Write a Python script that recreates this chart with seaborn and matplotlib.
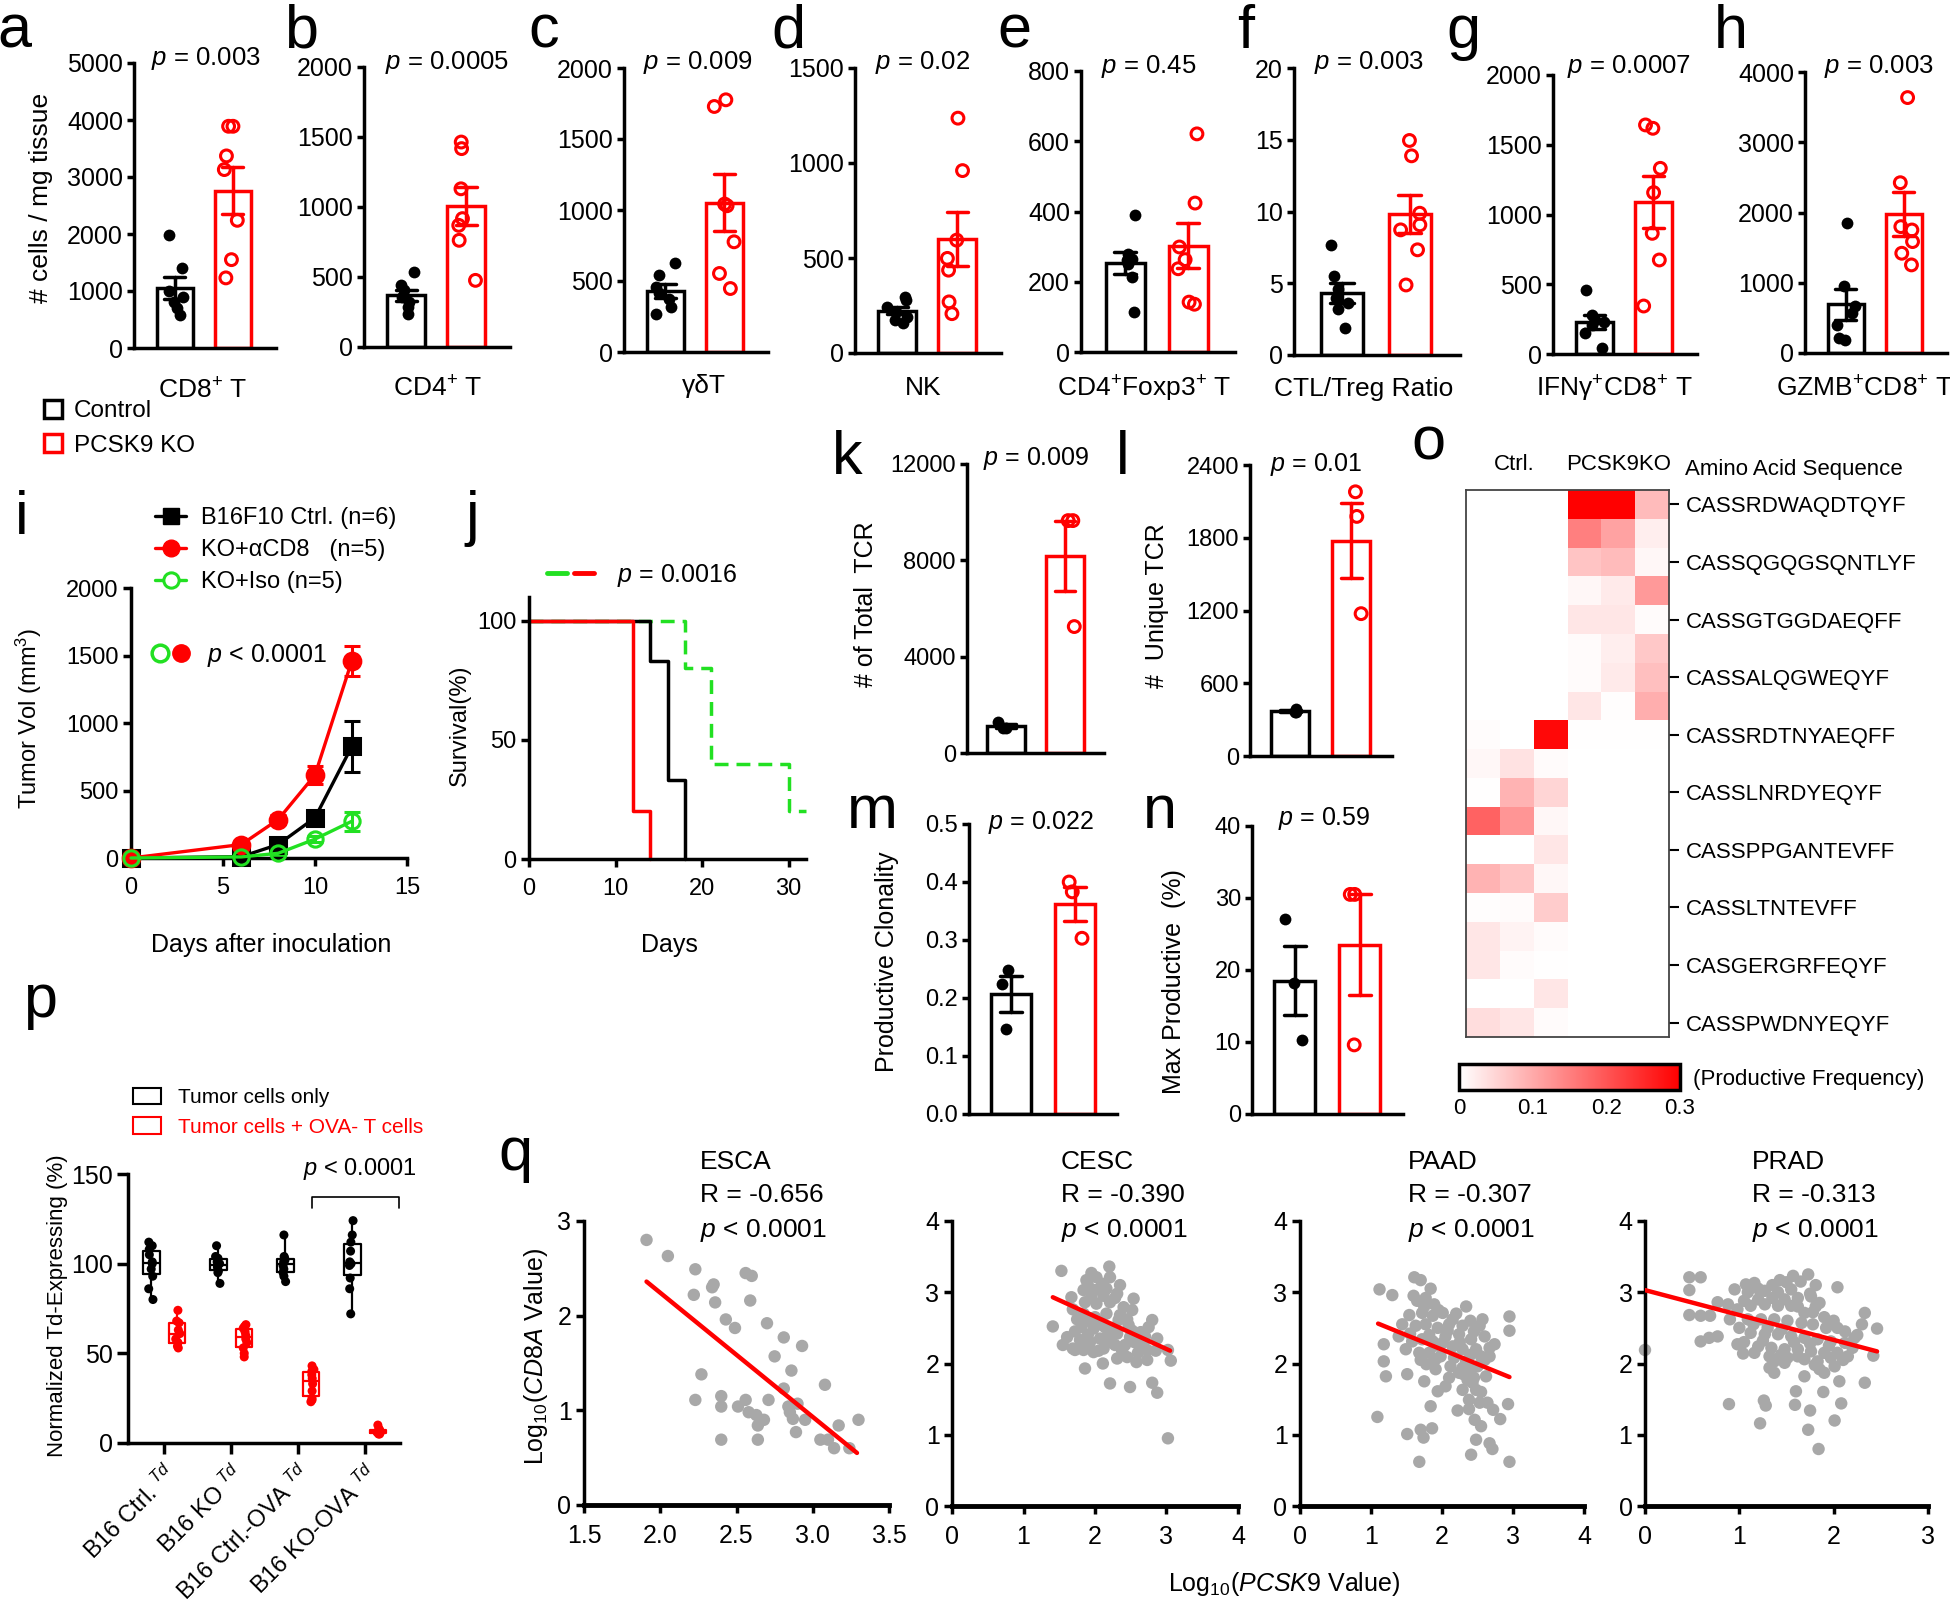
import numpy as np
import pandas as pd
import matplotlib
matplotlib.use("Agg")
import matplotlib.pyplot as plt
import seaborn as sns
from matplotlib import font_manager as fm
from matplotlib.patches import Patch
from matplotlib.lines import Line2D
from matplotlib.legend_handler import HandlerTuple
from matplotlib.colors import LinearSegmentedColormap

# ======================= DATA =======================
groups = ["Control", "PCSK9 KO"]

# panels a-h : cells / mg tissue (individual mice)
cd8_ctrl = [1990, 1400, 1000, 900, 800, 700, 580]
cd8_ko = [3890, 3890, 3370, 3130, 2240, 1550, 1230]
cd4_ctrl = [536, 440, 405, 357, 321, 286, 238]
cd4_ko = [1464, 1417, 1130, 917, 869, 762, 476]
gdt_ctrl = [624, 541, 459, 412, 376, 318, 271]
gdt_ko = [1776, 1729, 1042, 1030, 776, 553, 447]
nk_ctrl = [295, 278, 243, 216, 190, 175, 160]
nk_ko = [1236, 960, 594, 498, 436, 269, 207]
treg_ctrl = [389, 280, 266, 261, 251, 213, 114]
treg_ko = [621, 424, 299, 263, 237, 142, 136]
ratio_ctrl = [7.67, 5.5, 4.6, 4.0, 3.6, 3.2, 1.86]
ratio_ko = [14.95, 13.88, 9.88, 9.07, 8.72, 7.33, 4.88]
ifng_ctrl = [459, 280, 244, 232, 208, 148, 41]
ifng_ko = [1642, 1618, 1331, 1157, 865, 674, 344]
gzmb_ctrl = [1856, 947, 672, 568, 402, 213, 189]
gzmb_ko = [3636, 2424, 1799, 1751, 1586, 1420, 1254]
top_xlabels = ["CD8$^{+}$ T", "CD4$^{+}$ T", "\u03b3\u03b4T", "NK", "CD4$^{+}$Foxp3$^{+}$ T",
               "CTL/Treg Ratio", "IFN\u03b3$^{+}$CD8$^{+}$ T", "GZMB$^{+}$CD8$^{+}$ T"]
top_pvals = ["0.003", "0.0005", "0.009", "0.02", "0.45", "0.003", "0.0007", "0.003"]
top_ymax = [5000, 2000, 2000, 1500, 800, 20, 2000, 4000]
top_step = [1000, 500, 500, 500, 200, 5, 500, 1000]

# panel i : tumour growth (mean, SEM)
days = [0, 6, 8, 10, 12]
ctrl_vol = [0, 10, 100, 298, 826]
ctrl_sem = [0, 6, 20, 30, 190]
cd8_vol = [0, 100, 285, 615, 1459]
cd8_sem = [0, 15, 30, 70, 110]
iso_vol = [0, 8, 35, 140, 272]
iso_sem = [0, 5, 10, 25, 70]
growth_labels = ["B16F10 Ctrl. (n=6)", "KO+\u03b1CD8   (n=5)", "KO+Iso (n=5)"]

# panel j : survival
surv_ctrl_t = [0, 14, 16, 18]
surv_ctrl_s = [100, 83.3, 33.3, 0]
surv_cd8_t = [0, 12, 14]
surv_cd8_s = [100, 20, 0]
surv_iso_t = [0, 18, 21, 30, 32]
surv_iso_s = [100, 80, 40, 20, 20]

# panels k-n : TCR sequencing
tcr_total_ctrl = [1020, 1300, 1020]
tcr_total_ko = [9650, 9650, 5250]
tcr_unique_ctrl = [360, 385, 360]
tcr_unique_ko = [2179, 1976, 1174]
clonality_ctrl = [0.248, 0.225, 0.146]
clonality_ko = [0.400, 0.383, 0.303]
maxprod_ctrl = [27.1, 18.2, 10.3]
maxprod_ko = [30.5, 30.5, 9.6]

# panel o : productive frequency heatmap (rows: clonotypes, cols: 3 Ctrl + 3 KO)
tcr_freq = [
    [0.000, 0.000, 0.000, 0.300, 0.300, 0.080],
    [0.000, 0.000, 0.000, 0.150, 0.110, 0.020],
    [0.000, 0.000, 0.000, 0.070, 0.080, 0.010],
    [0.000, 0.000, 0.000, 0.010, 0.025, 0.120],
    [0.000, 0.000, 0.000, 0.030, 0.030, 0.005],
    [0.000, 0.000, 0.000, 0.005, 0.020, 0.065],
    [0.000, 0.000, 0.000, 0.005, 0.025, 0.075],
    [0.000, 0.000, 0.000, 0.030, 0.003, 0.095],
    [0.004, 0.000, 0.290, 0.002, 0.002, 0.002],
    [0.010, 0.035, 0.005, 0.000, 0.000, 0.000],
    [0.002, 0.090, 0.050, 0.000, 0.000, 0.000],
    [0.185, 0.125, 0.010, 0.000, 0.000, 0.000],
    [0.000, 0.000, 0.030, 0.000, 0.000, 0.000],
    [0.090, 0.070, 0.010, 0.000, 0.000, 0.000],
    [0.003, 0.005, 0.060, 0.000, 0.000, 0.000],
    [0.030, 0.015, 0.005, 0.000, 0.000, 0.000],
    [0.030, 0.005, 0.002, 0.000, 0.000, 0.000],
    [0.000, 0.000, 0.030, 0.000, 0.000, 0.000],
    [0.040, 0.030, 0.005, 0.000, 0.000, 0.000],
]
tcr_labels = ["CASSRDWAQDTQYF", "CASSQGQGSQNTLYF", "CASSGTGGDAEQFF", "CASSALQGWEQYF",
              "CASSRDTNYAEQFF", "CASSLNRDYEQYF", "CASSPPGANTEVFF", "CASSLTNTEVFF",
              "CASGERGRFEQYF", "CASSPWDNYEQYF"]
cbar_ticks = [0, 0.1, 0.2, 0.3]
cbar_ticklabels = ["0", "0.1", "0.2", "0.3"]

# panel p : normalized Td-expressing (%)
td_groups = ["B16 Ctrl. $^{Td}$", "B16 KO $^{Td}$", "B16 Ctrl.-OVA $^{Td}$", "B16 KO-OVA $^{Td}$"]
td_conds = ["Tumor cells only", "Tumor cells + OVA- T cells"]
td_ctrl_only = [112, 110, 108, 105, 101, 100, 97, 93, 86, 80]
td_ctrl_t = [74, 68, 67, 63, 61, 58, 56, 54, 53]
td_ko_only = [110, 104, 103, 101, 100, 99, 98, 96, 95, 89]
td_ko_t = [66, 65, 64, 62, 60, 58, 56, 53, 50, 48]
td_ctrlova_only = [116, 104, 103, 102, 101, 99, 97, 95, 93, 90]
td_ctrlova_t = [43, 41, 40, 38, 36, 33, 29, 25, 24, 23]
td_koova_only = [124, 116, 112, 107, 101, 100, 99, 92, 86, 72]
td_koova_t = [10, 8, 7, 7, 6, 6, 5, 5]

# panel q : TCGA correlations log10(PCSK9) vs log10(CD8A)
esca_x = [1.91, 2.05, 2.23, 2.56, 2.60, 2.34, 2.35, 2.22, 2.36, 2.59, 2.43, 2.49, 2.70, 2.81, 2.93,
          2.75, 2.86, 2.27, 2.81, 3.08, 2.23, 2.40, 2.40, 2.51, 2.56, 2.58, 2.63, 2.68, 2.64, 2.71,
          2.84, 2.90, 2.87, 2.95, 2.89, 2.40, 2.64, 3.17, 3.30, 3.05, 3.10, 3.14, 3.24, 2.85]
esca_y = [2.80, 2.63, 2.49, 2.45, 2.42, 2.30, 2.33, 2.22, 2.14, 2.16, 1.96, 1.87, 1.92, 1.77, 1.68,
          1.57, 1.42, 1.38, 1.23, 1.27, 1.11, 1.15, 1.04, 1.04, 1.11, 0.98, 0.95, 0.90, 0.84, 1.11,
          1.04, 1.07, 0.91, 0.90, 0.77, 0.69, 0.69, 0.84, 0.90, 0.69, 0.69, 0.60, 0.60, 0.98]
cesc_x = [1.53, 2.20, 1.95, 2.35, 1.67, 2.54, 1.41, 1.69, 2.80, 3.06, 1.86, 2.11, 2.21, 2.49, 2.80,
          2.87, 3.02, 1.55, 1.61, 1.69, 2.31, 2.45, 2.58, 2.73, 2.85, 3.02, 2.87, 2.75, 2.64, 2.28,
          1.88, 2.02, 2.21, 1.84, 2.00, 2.16, 2.31, 1.86, 2.02, 2.21, 2.40, 2.52, 1.84, 2.00, 2.16,
          2.33, 2.47, 1.81, 1.98, 2.14, 2.31, 2.49, 2.64, 1.79, 1.93, 2.07, 2.21, 2.42, 1.84, 1.98,
          2.12, 1.72, 2.73, 2.68,
          1.90, 2.10, 2.28, 1.95, 2.12, 2.35, 2.45, 2.25, 2.05, 1.90, 1.72, 1.75, 2.55, 2.60, 2.38,
          2.05, 1.90, 2.18, 2.70, 2.52]
cesc_y = [3.30, 3.36, 3.27, 3.10, 2.93, 2.91, 2.52, 2.76, 2.61, 2.04, 1.93, 2.00, 1.72, 1.67, 1.73,
          1.59, 0.95, 2.26, 2.37, 2.21, 2.07, 2.09, 2.02, 2.05, 2.18, 2.19, 2.35, 2.51, 2.23, 2.26,
          3.17, 3.21, 3.21, 3.03, 3.03, 3.05, 2.98, 2.86, 2.84, 2.86, 2.79, 2.75, 2.70, 2.65, 2.70,
          2.61, 2.54, 2.51, 2.49, 2.51, 2.42, 2.37, 2.44, 2.33, 2.30, 2.35, 2.30, 2.26, 2.19, 2.16,
          2.21, 2.19, 2.19, 2.30,
          3.10, 3.12, 2.92, 2.93, 2.95, 2.68, 2.62, 2.50, 2.55, 2.60, 2.45, 2.62, 2.30, 2.15, 2.18,
          2.18, 2.40, 2.40, 2.38, 2.46]
paad_x = [1.12, 1.30, 1.61, 1.70, 1.84, 2.34, 2.95, 2.95, 1.18, 1.18, 1.21, 1.51, 1.75, 1.94, 1.84,
          2.22, 2.38, 1.09, 1.51, 1.70, 1.86, 1.74, 1.68, 2.48, 2.41, 2.67, 2.71, 2.95, 2.93, 2.72,
          2.82, 2.55, 2.46, 2.55, 2.43, 2.64, 2.74, 2.67, 2.57, 2.53, 2.60, 2.62, 2.41, 2.24, 2.10,
          1.91, 1.78, 1.39, 1.44, 1.54, 1.49,
          1.65, 1.77, 1.89, 1.72, 1.87, 2.01, 2.15, 2.29, 1.63, 1.77, 1.94, 2.08, 2.24, 2.41, 1.58,
          1.72, 1.87, 2.01, 2.15, 2.29, 2.48, 1.68, 1.82, 1.98, 2.17, 2.34, 2.50, 2.67, 2.55, 1.91,
          2.12, 2.29, 2.36, 2.48, 2.29, 2.53, 2.38,
          1.60, 1.75, 1.95, 2.10, 2.20, 2.40, 2.45, 1.55, 1.82, 2.05, 2.25, 1.90, 2.40, 2.60, 2.30,
          2.45, 2.05, 1.70]
paad_y = [3.04, 2.96, 3.21, 3.17, 3.05, 2.80, 2.66, 2.46, 2.27, 2.03, 1.82, 1.85, 1.75, 1.61, 1.40,
          1.34, 1.36, 1.25, 1.01, 1.07, 1.09, 0.96, 0.62, 0.93, 0.72, 0.88, 0.80, 0.62, 1.43, 1.35,
          1.22, 1.12, 1.21, 1.60, 1.73, 1.45, 2.27, 2.10, 2.62, 2.53, 2.38, 1.82, 1.92, 1.87, 1.80,
          1.92, 1.99, 2.38, 2.55, 2.68, 2.20,
          2.88, 2.92, 2.83, 2.71, 2.67, 2.71, 2.62, 2.53, 2.53, 2.55, 2.50, 2.46, 2.41, 2.34, 2.31,
          2.34, 2.31, 2.29, 2.24, 2.20, 2.20, 2.15, 2.15, 2.10, 2.08, 2.03, 1.96, 2.22, 2.10, 2.06,
          1.96, 1.94, 1.77, 1.63, 1.63, 1.45, 1.49,
          2.95, 2.80, 2.75, 2.55, 2.70, 2.60, 2.45, 2.42, 2.40, 2.38, 2.30, 2.25, 2.12, 2.05, 1.85,
          1.80, 1.68, 2.05]
prad_x = [0.00, 0.47, 0.59, 0.47, 0.47, 0.59, 0.69, 0.59, 0.68, 0.77, 0.77, 0.88, 0.95, 1.07, 1.16,
          1.43, 1.57, 1.73, 1.81, 2.04, 1.76, 1.81, 2.33, 2.46, 2.42, 2.33, 2.06, 2.22, 2.15, 1.69,
          1.60, 1.59, 1.75, 1.73, 1.84, 1.89, 2.08, 2.01, 0.89, 1.26, 1.28, 1.22, 1.37, 0.98, 1.04,
          1.16, 1.32, 1.48, 1.85, 2.01,
          1.09, 1.27, 1.41, 1.55, 1.62, 0.98, 1.12, 1.27, 1.41, 1.55, 1.69, 1.09, 1.23, 1.37, 1.51,
          1.66, 1.78, 1.92, 2.04, 1.12, 1.27, 1.41, 1.55, 1.69, 1.83, 1.97, 2.12, 1.20, 1.34, 1.48,
          1.62, 1.76, 1.90, 2.04, 1.37, 1.51, 1.69, 1.83, 1.97, 1.32, 1.90,
          1.20, 1.35, 1.50, 1.65, 1.75, 1.05, 1.20, 1.35, 1.48, 1.62, 1.78, 1.90, 2.00, 2.12, 2.25,
          2.20, 2.10, 1.95, 1.75, 1.58, 1.45, 1.30, 1.15, 1.00, 0.90, 1.05, 1.25, 1.44, 1.62, 1.80,
          2.30, 1.85]
prad_y = [2.19, 3.21, 3.21, 3.03, 2.68, 2.67, 2.67, 2.31, 2.36, 2.38, 2.86, 2.83, 3.04, 3.11, 3.13,
          3.17, 3.23, 3.25, 3.10, 3.07, 2.94, 2.80, 2.71, 2.49, 2.11, 1.73, 1.75, 2.36, 2.10, 1.82,
          1.61, 1.42, 1.34, 1.07, 0.80, 1.60, 1.44, 1.20, 1.43, 1.48, 1.41, 1.16, 1.87, 2.27, 2.14,
          2.15, 2.10, 2.01, 1.92, 1.96,
          3.00, 3.02, 3.00, 3.04, 2.92, 2.76, 2.81, 2.83, 2.81, 2.81, 2.71, 2.62, 2.62, 2.62, 2.60,
          2.57, 2.55, 2.50, 2.50, 2.43, 2.41, 2.41, 2.38, 2.36, 2.34, 2.31, 2.29, 2.24, 2.22, 2.20,
          2.20, 2.17, 2.15, 2.15, 2.03, 2.08, 2.06, 2.03, 2.08, 1.94, 1.87,
          3.05, 3.10, 3.14, 3.15, 2.98, 2.88, 2.90, 2.92, 2.90, 2.80, 2.72, 2.65, 2.60, 2.45, 2.40,
          2.22, 2.05, 2.25, 2.28, 2.30, 2.48, 2.50, 2.55, 2.50, 2.62, 2.30, 2.32, 2.12, 2.10, 1.98,
          2.55, 2.85]
esca_fit_x, esca_fit_y = [1.91, 3.29], [2.36, 0.55]
cesc_fit_x, cesc_fit_y = [1.41, 3.05], [2.93, 2.18]
paad_fit_x, paad_fit_y = [1.10, 2.95], [2.56, 1.81]
prad_fit_x, prad_fit_y = [0.00, 2.46], [3.03, 2.17]
q_titles = ["ESCA", "CESC", "PAAD", "PRAD"]
q_r = ["R = -0.656", "R = -0.390", "R = -0.307", "R = -0.313"]

# ======================= STYLE =======================
RED = "#FF0000"
GREEN = "#22E022"
GRAY = "#A8A8A8"
sns.set_style("ticks")

try:
    fm.findfont(fm.FontProperties(family="Liberation Sans Narrow"), fallback_to_default=False)
    NARROW = "Liberation Sans Narrow"
    FS = 1.22
except Exception:
    NARROW = "Liberation Sans"
    FS = 1.0
FAMILY = [NARROW, "Liberation Sans", "DejaVu Sans"]
plt.rcParams["font.family"] = FAMILY
plt.rcParams["mathtext.fontset"] = "custom"
plt.rcParams["mathtext.rm"] = NARROW
plt.rcParams["mathtext.it"] = NARROW + ":italic"
plt.rcParams["mathtext.bf"] = NARROW + ":bold"
plt.rcParams["mathtext.sf"] = NARROW
for k in ["axes.edgecolor", "xtick.color", "ytick.color", "text.color", "axes.labelcolor"]:
    plt.rcParams[k] = "black"
np.random.seed(5)

W, H = 1950, 1604
fig = plt.figure(figsize=(W / 100, H / 100), dpi=100)
fig.patch.set_facecolor("white")


def add_ax(l, t, r, b):
    return fig.add_axes([l / W, 1 - b / H, (r - l) / W, (b - t) / H])


def ftext(x, y, s, size=18, ha="center", va="center", **kw):
    return fig.text(x / W, 1 - y / H, s, fontsize=size * FS, ha=ha, va=va, **kw)


def leg(fs, first_center, x_left, hl_px, htp_px, pitch=None, hh_px=None):
    """legend keyword set (pixel-based layout converted to font units)"""
    fpt = fs * FS
    fpx = fpt * 100 / 72
    th = 1.15 * fpx
    kw = dict(fontsize=fpt, handlelength=hl_px / fpx, handletextpad=htp_px / fpx,
              frameon=False, borderpad=0, borderaxespad=0, loc="upper left",
              bbox_to_anchor=(x_left / W, 1 - (first_center - th / 2) / H))
    if hh_px:
        kw["handleheight"] = hh_px / fpx
    if pitch:
        kw["labelspacing"] = max(pitch - th, 0) / fpx
    return kw, fpx


def finish(ax, lw=2.5, length=5, labelsize=18):
    sns.despine(ax=ax)
    for s in ("left", "bottom"):
        ax.spines[s].set_linewidth(lw)
        ax.spines[s].set_color("black")
    ax.tick_params(width=lw, length=length, labelsize=labelsize * FS, colors="black", pad=3)
    ax.set_xlabel("")
    ax.set_ylabel("")


group_pal = {groups[0]: "black", groups[1]: RED}


def bar_panel(ax, ctrl, ko, ymax, step, xlim, width=0.62, size=8.5, lw=2.5, labelsize=18):
    df = pd.DataFrame({"group": [groups[0]] * len(ctrl) + [groups[1]] * len(ko),
                       "value": list(ctrl) + list(ko)})
    sns.barplot(data=df, x="group", y="value", hue="group", order=groups, hue_order=groups,
                palette=group_pal, fill=False, errorbar="se", capsize=0.35, width=width,
                linewidth=lw, err_kws={"linewidth": lw}, legend=False, ax=ax)
    for g, col in zip(groups, ["black", RED]):
        n0 = len(ax.collections)
        sns.stripplot(data=df[df["group"] == g], x="group", y="value", order=groups,
                      color=col, size=size, jitter=0.17, ax=ax, zorder=4)
        if g == groups[1]:
            for c in ax.collections[n0:]:
                c.set_facecolor("none")
                c.set_edgecolor(RED)
                c.set_linewidth(2.2)
    ax.set_xlim(*xlim)
    ax.set_ylim(0, ymax)
    ax.set_yticks(np.arange(0, ymax + step / 2, step))
    ax.set_xticks([])
    finish(ax, lw=lw, length=5, labelsize=labelsize)


# ======================= TOP ROW a-h =======================
top_data = [(cd8_ctrl, cd8_ko), (cd4_ctrl, cd4_ko), (gdt_ctrl, gdt_ko), (nk_ctrl, nk_ko),
            (treg_ctrl, treg_ko), (ratio_ctrl, ratio_ko), (ifng_ctrl, ifng_ko), (gzmb_ctrl, gzmb_ko)]
top_boxes = [(134, 63, 58, 348), (364, 67, 60, 347), (624, 68, 59, 352), (855, 68, 60, 353),
             (1081, 71, 63, 352), (1294, 68, 68, 355), (1553, 75, 59, 354), (1805, 72, 58, 353)]
top_ptext = [(206, 58), (447, 62), (698, 62), (923, 62), (1149, 66), (1369, 62), (1629, 66), (1879, 66)]
top_xlab = [(203, 391), (438, 389), (704, 386), (923, 388), (1144, 389), (1364, 389), (1614, 389), (1865, 389)]
XL = (-0.7, 1.74)
for i, ((c, k), (L, T, u, B)) in enumerate(zip(top_data, top_boxes)):
    ax = add_ax(L, T, L + u * (XL[1] - XL[0]), B)
    bar_panel(ax, c, k, top_ymax[i], top_step[i], XL)
    ftext(*top_ptext[i], "$p$ = " + top_pvals[i], size=18.5)
    ftext(*top_xlab[i], top_xlabels[i], size=19)
ftext(41, 198, "# cells / mg tissue", size=19, rotation=90)

kw, fpx = leg(17.5, 414, 44, 18, 12, pitch=40, hh_px=18)
fig.legend(handles=[Patch(facecolor="white", edgecolor="black", lw=2.5),
                    Patch(facecolor="white", edgecolor=RED, lw=2.5)], labels=groups, **kw)

# ======================= i : tumour growth =======================
ax_i = add_ax(131, 588, 407, 858)
for vals, sem, col, mk, ms, mfc in [(ctrl_vol, ctrl_sem, "black", "s", 11, "black"),
                                    (cd8_vol, cd8_sem, RED, "o", 12, RED),
                                    (iso_vol, iso_sem, GREEN, "o", 11, "none")]:
    ax_i.errorbar(days, vals, yerr=sem, fmt="none", ecolor=col, elinewidth=2.2, capsize=6,
                  capthick=2.2, zorder=2, clip_on=False)
    sns.lineplot(x=days, y=vals, color=col, lw=2.4, marker=mk, markersize=ms,
                 markerfacecolor=mfc, markeredgecolor=col, markeredgewidth=2.2,
                 ax=ax_i, clip_on=False, zorder=3)
ax_i.set_xlim(0, 15)
ax_i.set_ylim(0, 2000)
ax_i.set_xticks([0, 5, 10, 15])
ax_i.set_yticks([0, 500, 1000, 1500, 2000])
finish(ax_i, lw=2.5, length=6, labelsize=17)
ax_i.tick_params(axis="x", pad=8)
ftext(29, 718, "Tumor Vol (mm$^{3}$)", size=17, rotation=90)
ftext(271, 945, "Days after inoculation", size=18)

h_ctrl = Line2D([], [], color="black", lw=2.4, marker="s", markersize=11)
h_cd8 = Line2D([], [], color=RED, lw=2.4, marker="o", markersize=12)
h_iso = Line2D([], [], color=GREEN, lw=2.4, marker="o", markersize=11, markerfacecolor="white",
               markeredgecolor=GREEN, markeredgewidth=2.2)
kw, fpx = leg(17, 521, 155, 31, 15, pitch=37)
fig.legend(handles=[h_ctrl, h_cd8, h_iso], labels=growth_labels, **kw)
p_open = Line2D([], [], ls="none", marker="o", markersize=12, markerfacecolor="white",
                markeredgecolor=GREEN, markeredgewidth=2.5)
p_fill = Line2D([], [], ls="none", marker="o", markersize=12.5, color=RED)
kw, fpx = leg(18, 656, 150, 40, 17)
fig.legend(handles=[(p_open, p_fill)], labels=["$p$ < 0.0001"],
           handler_map={tuple: HandlerTuple(ndivide=None, pad=2 / fpx)}, **kw)

# ======================= j : survival =======================
ax_j = add_ax(529, 597, 806, 859)
for t, s, col, ls in [(surv_iso_t, surv_iso_s, GREEN, (0, (4, 2.3))),
                      (surv_ctrl_t, surv_ctrl_s, "black", "-"),
                      (surv_cd8_t, surv_cd8_s, RED, "-")]:
    sns.lineplot(x=t, y=s, color=col, lw=2.5, drawstyle="steps-post", linestyle=ls,
                 ax=ax_j, clip_on=False)
ax_j.set_xlim(0, 32)
ax_j.set_ylim(0, 110)
ax_j.set_xticks([0, 10, 20, 30])
ax_j.set_yticks([0, 50, 100])
finish(ax_j, lw=2.5, length=6, labelsize=17)
ax_j.tick_params(axis="x", pad=8)
ftext(460, 725, "Survival(%)", size=17, rotation=90)
ftext(669, 945, "Days", size=18)
kw, fpx = leg(18, 576, 547, 47, 23)
fig.legend(handles=[(Line2D([], [], color=GREEN, lw=3.5), Line2D([], [], color=RED, lw=3.5))],
           labels=["$p$ = 0.0016"], handler_map={tuple: HandlerTuple(ndivide=None, pad=7 / fpx)},
           **kw)

# ======================= k-n : TCR bars =======================
XL2 = (-0.66, 1.66)
kn = [(tcr_total_ctrl, tcr_total_ko, 12000, 4000, (967, 464, 59, 753), (1036, 458), "0.009",
       (866, 604), "# of Total  TCR"),
      (tcr_unique_ctrl, tcr_unique_ko, 2400, 600, (1250, 465, 61, 756), (1316, 465), "0.01",
       (1157, 606), "#  Unique TCR"),
      (clonality_ctrl, clonality_ko, 0.5, 0.1, (969, 824, 64, 1114), (1041, 822), "0.022",
       (887, 962), "Productive Clonality"),
      (maxprod_ctrl, maxprod_ko, 40, 10, (1252, 826, 65, 1114), (1324, 819), "0.59",
       (1174, 982), "Max Productive  (%)")]
for c, k, ymax, step, (L, T, u, B), ppos, pv, ylpos, ylab in kn:
    ax = add_ax(L, T, L + u * (XL2[1] - XL2[0]), B)
    bar_panel(ax, c, k, ymax, step, XL2, width=0.63, labelsize=17)
    ftext(*ppos, "$p$ = " + pv, size=18)
    ftext(*ylpos, ylab, size=18, rotation=90)

# ======================= o : heatmap =======================
ax_o = add_ax(1466, 490, 1669, 1037)
cax = add_ax(1459, 1064, 1680, 1090)
wr = LinearSegmentedColormap.from_list("wr", ["#FFFFFF", RED])
sns.heatmap(np.array(tcr_freq), cmap=wr, vmin=0, vmax=0.3, ax=ax_o, cbar_ax=cax,
            cbar_kws={"orientation": "horizontal", "ticks": cbar_ticks},
            xticklabels=False, yticklabels=False, linewidths=0)
ax_o.set_yticks(np.arange(0, len(tcr_freq), 2) + 0.5)
ax_o.set_yticklabels(tcr_labels, rotation=0, fontsize=16 * FS)
ax_o.yaxis.tick_right()
ax_o.tick_params(axis="y", length=7, width=1.5, pad=5, right=True, left=False, colors="black")
for s in ax_o.spines.values():
    s.set_visible(True)
    s.set_linewidth(1.3)
    s.set_color("#444444")
cbar = ax_o.collections[0].colorbar
cbar.set_ticklabels(cbar_ticklabels)
cbar.outline.set_linewidth(2.5)
cbar.outline.set_edgecolor("black")
cax.tick_params(axis="x", direction="in", length=6, width=2, top=True, bottom=True,
                labelsize=16 * FS, pad=6, colors="black")
ftext(1514, 465, "Ctrl.", size=16)
ftext(1619, 465, "PCSK9KO", size=16)
ftext(1685, 469, "Amino Acid Sequence", size=16, ha="left")
ftext(1693, 1080, "(Productive Frequency)", size=16, ha="left")

# ======================= p : Td boxplots =======================
ax_p = add_ax(128, 1174, 400, 1443)
rows = []
for g, only, tc in zip(td_groups, [td_ctrl_only, td_ko_only, td_ctrlova_only, td_koova_only],
                       [td_ctrl_t, td_ko_t, td_ctrlova_t, td_koova_t]):
    rows += [(g, td_conds[0], v) for v in only]
    rows += [(g, td_conds[1], v) for v in tc]
dfp = pd.DataFrame(rows, columns=["group", "cond", "value"])
td_pal = {td_conds[0]: "black", td_conds[1]: RED}
sns.boxplot(data=dfp, x="group", y="value", hue="cond", order=td_groups, hue_order=td_conds,
            palette=td_pal, fill=False, whis=(0, 100), width=0.76, gap=0.35, showcaps=False,
            linewidth=1.6, legend=False, ax=ax_p)
sns.stripplot(data=dfp, x="group", y="value", hue="cond", order=td_groups, hue_order=td_conds,
              palette=td_pal, dodge=True, jitter=0.07, size=6.5, legend=False, ax=ax_p, zorder=3)
ax_p.set_xlim(-0.54, 3.52)
ax_p.set_ylim(0, 150)
ax_p.set_yticks([0, 50, 100, 150])
finish(ax_p, lw=2.5, length=8, labelsize=18)
ax_p.set_xticks(range(len(td_groups)))
ax_p.set_xticklabels(td_groups, rotation=45, ha="right", va="top", rotation_mode="anchor",
                     fontsize=17 * FS)
ax_p.tick_params(axis="x", pad=5)
bl, br = 2 + 0.21, 3 + 0.5
ax_p.plot([bl, bl, br, br], [131, 137, 137, 131], color="black", lw=1.2, clip_on=False)
ax_p.text((bl + br) / 2 + 0.07, 153, "$p$ < 0.0001", ha="center", va="center", fontsize=17 * FS)
ftext(57, 1306, "Normalized Td-Expressing (%)", size=16, rotation=90)
kw, fpx = leg(15, 1100, 133, 28, 17, pitch=34, hh_px=17)
fig.legend(handles=[Patch(facecolor="white", edgecolor="black", lw=1.5),
                    Patch(facecolor="white", edgecolor=RED, lw=1.5)],
           labels=td_conds, labelcolor=["black", RED], **kw)

# ======================= q : correlations =======================
q_data = [(esca_x, esca_y, esca_fit_x, esca_fit_y), (cesc_x, cesc_y, cesc_fit_x, cesc_fit_y),
          (paad_x, paad_y, paad_fit_x, paad_fit_y), (prad_x, prad_y, prad_fit_x, prad_fit_y)]
q_boxes = [(584, 1221, 889, 1505), (952, 1221, 1238, 1506), (1300, 1221, 1584, 1506),
           (1645, 1221, 1928, 1506)]
q_xlims = [(1.5, 3.5), (0, 4), (0, 4), (0, 3)]
q_xticks = [[1.5, 2.0, 2.5, 3.0, 3.5], [0, 1, 2, 3, 4], [0, 1, 2, 3, 4], [0, 1, 2, 3]]
q_ylims = [(0, 3), (0, 4), (0, 4), (0, 4)]
q_textx = [700, 1061, 1408, 1752]
for (qx, qy, fx, fy), box, xl, xt, yl, tx, ttl, rr in zip(q_data, q_boxes, q_xlims, q_xticks,
                                                          q_ylims, q_textx, q_titles, q_r):
    ax = add_ax(*box)
    sns.scatterplot(x=qx, y=qy, color=GRAY, s=80, edgecolor="none", linewidth=0, ax=ax,
                    clip_on=False, zorder=2)
    sns.lineplot(x=fx, y=fy, color=RED, lw=3.2, ax=ax, zorder=3)
    ax.set_xlim(*xl)
    ax.set_ylim(*yl)
    ax.set_xticks(xt)
    ax.set_yticks(range(int(yl[1]) + 1))
    finish(ax, lw=2.5, length=6, labelsize=18)
    ax.tick_params(axis="x", pad=8)
    ax.spines["bottom"].set_linewidth(3.5)
    ftext(tx, 1162, ttl, size=19, ha="left")
    ftext(tx, 1195, rr, size=19, ha="left")
    ftext(tx, 1231, "$p$ < 0.0001", size=19, ha="left")
ftext(1284, 1584, "Log$_{10}$($\\it{PCSK9}$ Value)", size=18)
ftext(536, 1357, "Log$_{10}$($\\it{CD8A}$ Value)", size=18, rotation=90)

# ======================= panel letters =======================
letters = [("a", 14, 48), ("b", 301, 48), ("c", 544, 48), ("d", 788, 48), ("e", 1014, 48),
           ("f", 1246, 48), ("g", 1463, 48), ("h", 1731, 48), ("i", 22, 534), ("j", 472, 534),
           ("k", 847, 474), ("l", 1123, 474), ("o", 1428, 460), ("m", 872, 828), ("n", 1160, 828),
           ("p", 40, 1017), ("q", 515, 1170)]
for s, x, y in letters:
    fig.text(x / W, 1 - y / H, s, fontsize=44, ha="center", va="baseline",
             family=["Liberation Sans", "DejaVu Sans"])

fig.savefig("out.png", dpi=100, facecolor="white")
